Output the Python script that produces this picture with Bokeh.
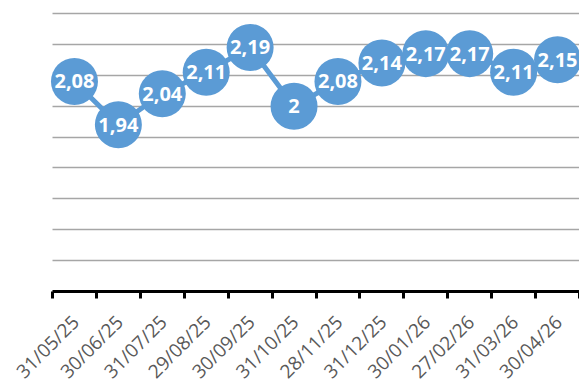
import math
from bokeh.plotting import figure
from bokeh.models import FixedTicker, Range1d, ColumnDataSource
from bokeh.core.properties import value
from bokeh.embed import file_html
from bokeh.resources import INLINE

dates = ["31/05/25", "30/06/25", "31/07/25", "29/08/25", "30/09/25", "31/10/25",
         "28/11/25", "31/12/25", "30/01/26", "27/02/26", "31/03/26", "30/04/26"]
values = [2.08, 1.94, 2.04, 2.11, 2.19, 2.00, 2.08, 2.14, 2.17, 2.17, 2.11, 2.15]
y_grid_ticks = [1.5, 1.6, 1.7, 1.8, 1.9, 2.0, 2.1, 2.2, 2.3]
y_min, y_max = 1.4, 2.3

n = len(dates)
x_lo, x_hi = 0.5, n + 0.5

# layout (pixels, canvas = page, Bokeh template has no body margin)
W, H = 579, 385
LEFT = 52          # canvas x of category boundary x_lo
TOP = 13           # canvas y of value y_max
AXIS_PX = 291      # canvas y of the category axis (value y_min)
px_per_x = (W - LEFT) / (x_hi - x_lo)
px_per_y = (AXIS_PX - TOP) / (y_max - y_min)
x_view_left = x_lo - LEFT / px_per_x
y_view_top = y_max + TOP / px_per_y
y_view_bottom = y_max - (H - TOP) / px_per_y

x_pos = list(range(1, n + 1))
labels = [("%g" % v).replace(".", ",") for v in values]
src = ColumnDataSource(dict(x=x_pos, y=values, label=labels))
date_src = ColumnDataSource(dict(x=x_pos, y=[y_min] * n, text=dates))

BLUE = "#5B9BD5"

p = figure(width=W, height=H, output_backend="svg", toolbar_location=None,
           x_range=Range1d(x_view_left, x_hi), y_range=Range1d(y_view_bottom, y_view_top),
           min_border_left=0, min_border_right=0, min_border_top=0,
           min_border_bottom=0)
p.outline_line_color = None
p.background_fill_color = "white"
p.border_fill_color = "white"

p.yaxis.visible = False
p.xgrid.visible = False
p.ygrid.ticker = FixedTicker(ticks=y_grid_ticks)
p.ygrid.grid_line_color = "#A6A6A6"
p.ygrid.grid_line_width = 1.5
p.ygrid.cross_bounds = (x_lo, x_hi)

xa = p.xaxis[0]
xa.fixed_location = y_min
xa.bounds = (x_lo, x_hi)
xa.ticker = FixedTicker(ticks=x_pos, minor_ticks=[i + 0.5 for i in range(n + 1)])
xa.major_tick_in = 0
xa.major_tick_out = 0
xa.minor_tick_in = 0
xa.minor_tick_out = 7
xa.minor_tick_line_width = 3
xa.minor_tick_line_color = "black"
xa.axis_line_width = 3
xa.axis_line_color = "black"
xa.major_label_overrides = {x: "" for x in x_pos}
xa.major_label_standoff = 0

p.text("x", "y", text="text", source=date_src, angle=math.pi / 4,
       x_offset=1, y_offset=27, text_align="right", text_baseline="middle",
       text_font=value("Open Sans"), text_font_size="19px", text_color="#595959")

p.line("x", "y", source=src, line_width=5, line_color=BLUE)
p.scatter("x", "y", source=src, size=47, fill_color=BLUE, line_color=None)
p.text("x", "y", text="label", source=src, text_align="center", text_baseline="middle",
       text_color="white", text_font=value("Open Sans"), text_font_style="bold",
       text_font_size="20px")

open("out.html", "w").write(file_html(p, INLINE))
